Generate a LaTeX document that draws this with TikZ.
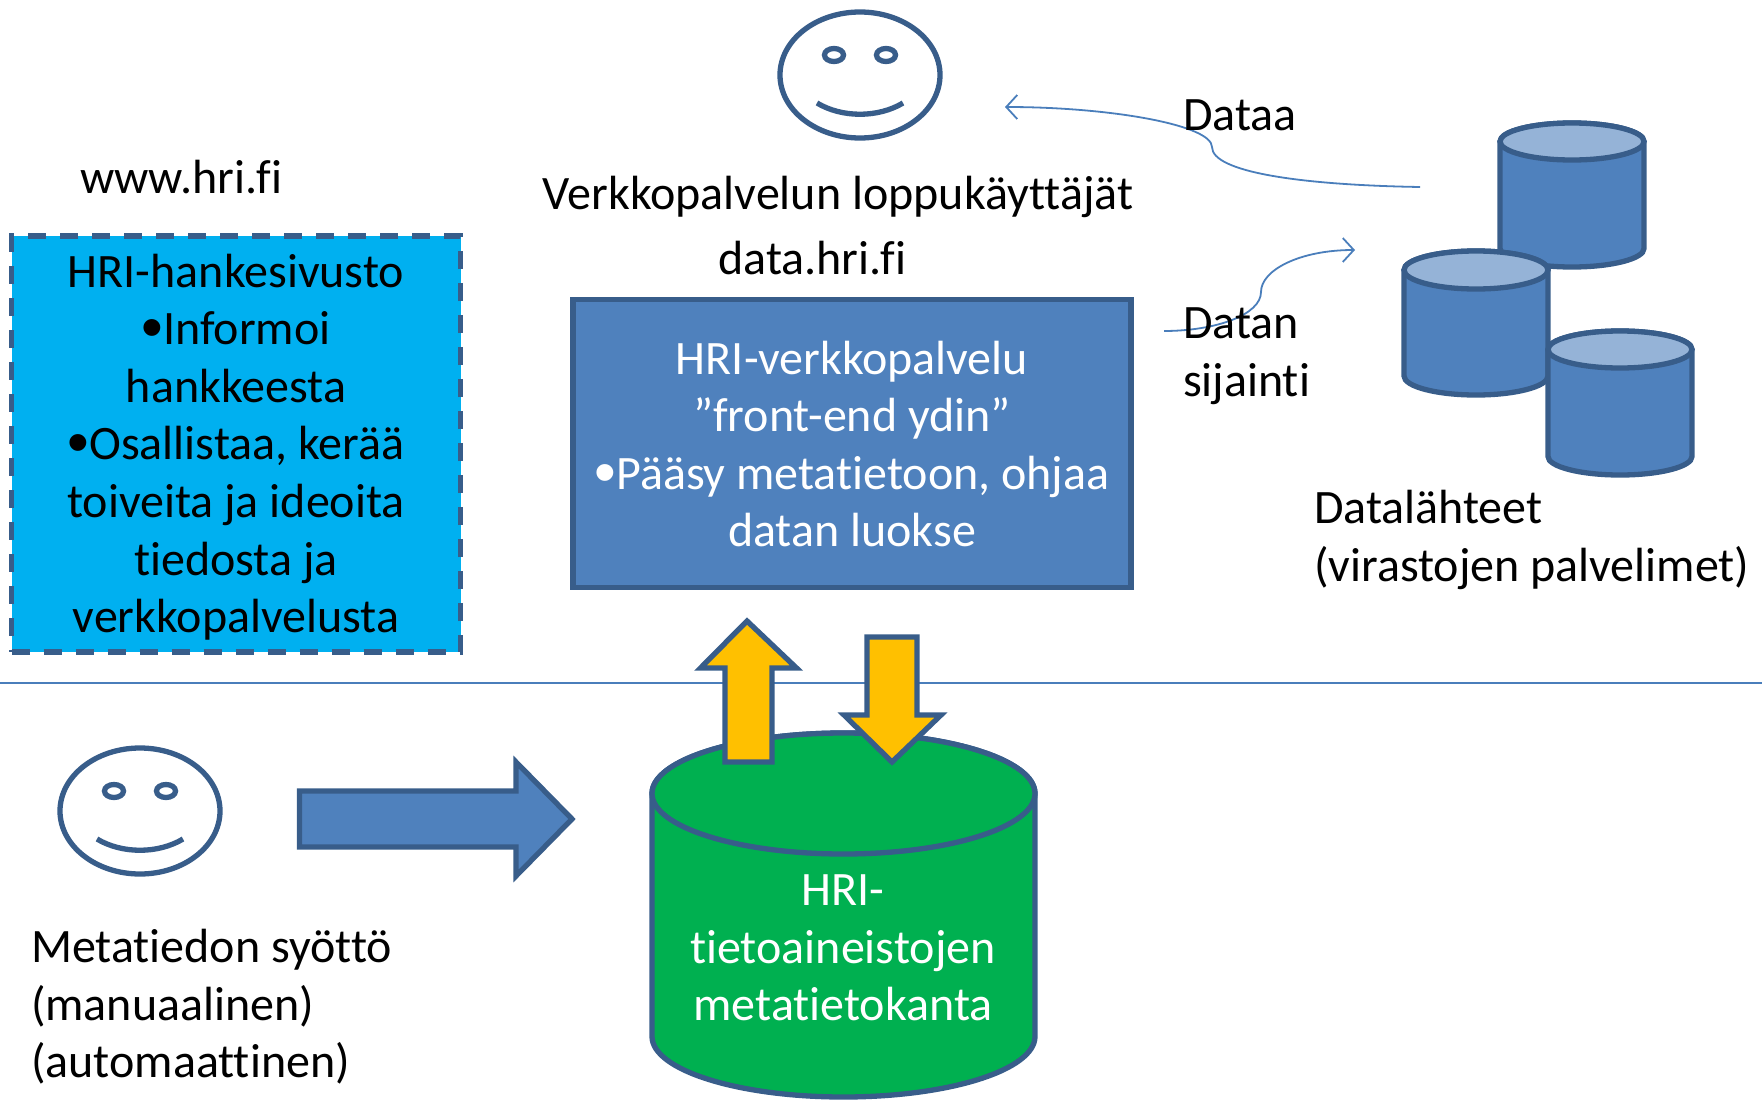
\documentclass[tikz,border=0pt]{standalone}
\usepackage{fontspec}
\setmainfont[Ligatures=NoCommon]{Carlito}
\newfontfamily\bulfont{Liberation Sans}
\usetikzlibrary{arrows.meta,calc}
\definecolor{edgeblue}{HTML}{385D8A}
\definecolor{bodyblue}{HTML}{4F81BD}
\definecolor{topblue}{HTML}{95B3D7}
\definecolor{skyfill}{HTML}{00B0F0}
\definecolor{greenfill}{HTML}{00B050}
\definecolor{orangefill}{HTML}{FFC000}
\definecolor{thinblue}{HTML}{4A7EBB}
\newcommand{\hribul}{\raisebox{-4pt}{\bulfont\fontsize{62}{57.6}\selectfont •}}
\tikzset{
  txt/.style={inner sep=0pt,outer sep=0pt,font=\fontsize{48}{57.6}\selectfont,align=center},
  txtl/.style={txt,align=left,anchor=west},
  thick edge/.style={draw=edgeblue,line width=5.3pt,line join=miter},
  curve/.style={draw=thinblue,line width=1.8pt,-{Straight Barb[length=11pt,width=24pt,line width=1.8pt]}},
  face/.style={draw=edgeblue,line width=5.3pt,fill=white},
}
\newcommand{\hricyl}[7]{%
  \pgfmathsetmacro{\cx}{(#1+#2)/2}\pgfmathsetmacro{\rx}{(#2-#1)/2}
  \pgfmathsetmacro{\ry}{(#4-#3)/2}\pgfmathsetmacro{\cy}{(#3+#4)/2}
  \pgfmathsetmacro{\by}{#5-\ry}
  \draw[thick edge,fill=#6] (#1,\cy) -- (#1,\by) arc[start angle=180,end angle=360,x radius=\rx pt,y radius=\ry pt] -- (#2,\cy) arc[start angle=0,end angle=180,x radius=\rx pt,y radius=\ry pt] -- cycle;
  \draw[thick edge,fill=#7] (\cx,\cy) ellipse[x radius=\rx pt,y radius=\ry pt];
}
\newcommand{\hriface}[2]{%
  \begin{scope}[shift={(#1,#2)}]
    \draw[face] (0,0) ellipse[x radius=80pt,y radius=63pt];
    \draw[face] (-26,-20) ellipse[x radius=9.5pt,y radius=6.5pt];
    \draw[face] (26,-20) ellipse[x radius=9.5pt,y radius=6.5pt];
    \draw[draw=edgeblue,line width=5.3pt] (-43,28) .. controls (-18,43) and (18,43) .. (43,28);
  \end{scope}
}
\begin{document}
\begin{tikzpicture}[x=1pt,y=-1pt]
\useasboundingbox (0,0) rectangle (1762,1100);
% divider
\coordinate (lineL) at (0,682.5);
\coordinate (lineR) at (1762,682.5);
\draw[thinblue,line width=2pt] (lineL) -- (lineR);
% faces
\hriface{860}{75}
\hriface{140}{811}
% data sources
\hricyl{1500}{1644}{123}{160}{267}{bodyblue}{topblue}
\hricyl{1404}{1548}{251}{289}{395}{bodyblue}{topblue}
\hricyl{1548}{1692}{331}{368}{475}{bodyblue}{topblue}
% metadata store
\hricyl{652}{1035}{733}{854}{1097}{greenfill}{greenfill}
% boxes
\node[draw=edgeblue,line width=5.3pt,dash pattern=on 18pt off 14pt,fill=skyfill,minimum width=449pt,minimum height=416pt,anchor=north west,inner sep=0pt,outer sep=0pt] (hanke) at (11.5,236) {};
\node[draw=edgeblue,line width=5.3pt,fill=bodyblue,minimum width=558pt,minimum height=288pt,anchor=north west,inner sep=0pt,outer sep=0pt] (verkko) at (573,299.5) {};
% block arrows
\draw[thick edge,fill=orangefill] (747,621) -- (796.5,668) -- (772,668) -- (772,762) -- (725,762) -- (725,668) -- (700.5,668) -- cycle;
\draw[thick edge,fill=orangefill] (867,637) -- (917,637) -- (917,715) -- (941,715) -- (892,762) -- (844,715) -- (867,715) -- cycle;
\draw[thick edge,fill=bodyblue] (299.5,791) -- (516,791) -- (516,762) -- (572,819) -- (516,876) -- (516,847) -- (299.5,847) -- cycle;
% curved connectors
\coordinate (dataS) at (1420,187);
\coordinate (dataE) at (1005,107);
\coordinate (sijS) at (1164,331);
\coordinate (sijE) at (1355,250);
\draw[curve] (dataS) .. controls (1300,185) and (1212,172) .. (1212,147) .. controls (1212,125) and (1110,107) .. (dataE);
\draw[curve] (sijS) .. controls (1215,331) and (1261,315) .. (1261,292) .. controls (1261,270) and (1300,250) .. (sijE);
% texts
\node[txtl] (www) at (80,177) {www.hri.fi};
\node[txt] (hanketxt) at (236,447) {HRI-hankesivusto\\\hribul Informoi\\hankkeesta\\\hribul Osallistaa, kerää\\toiveita ja ideoita\\tiedosta ja\\verkkopalvelusta};
\node[txt] (users) at (838,197) {Verkkopalvelun loppukäyttäjät};
\node[txt] (datahri) at (812.5,258) {data.hri.fi};
\node[txt,text=white] (verkkotxt) at (852,444) {HRI-verkkopalvelu\\”front-end ydin”\\\hribul Pääsy metatietoon, ohjaa\\datan luokse};
\node[txtl] (dataa) at (1183,115) {Dataa};
\node[txtl] (sijainti) at (1183,356) {Datan\\sijainti};
\node[txtl] (lahteet) at (1314,540) {Datalähteet\\(virastojen palvelimet)};
\node[txtl] (syotto) at (31,1007) {Metatiedon syöttö\\(manuaalinen)\\(automaattinen)};
\node[txt,text=white] (kanta) at (843,948) {HRI-\\tietoaineistojen\\metatietokanta};
\end{tikzpicture}
\end{document}
